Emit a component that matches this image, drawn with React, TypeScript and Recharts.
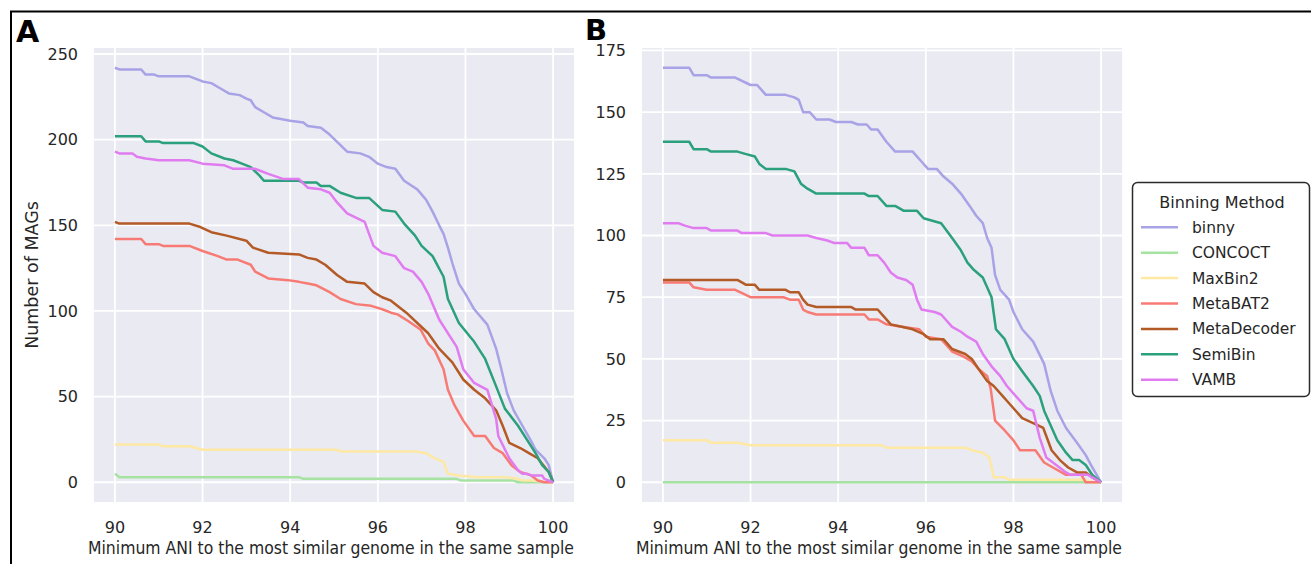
import { LineChart, Line, XAxis, YAxis, CartesianGrid, Label } from 'recharts'

// ─── Data ─────────────────────────────────────────────────────────────────
type Pt = [number, number]

const methods = ['binny', 'CONCOCT', 'MaxBin2', 'MetaBAT2', 'MetaDecoder', 'SemiBin', 'VAMB']
const colors = ['#a8a3e6', '#a6e3a2', '#fde8a4', '#f77b74', '#b35a26', '#2aa07c', '#e07cf0']

const xTicks = [90, 92, 94, 96, 98, 100]
const yTicksA = [0, 50, 100, 150, 200, 250]
const yTicksB = [0, 25, 50, 75, 100, 125, 150, 175]

// panel A
const binnyA: Pt[] = [[90,242],[90.1,241],[90.6,241],[90.7,238],[90.9,238],[91.0,237],[91.7,237],[92.0,234],[92.2,233],[92.4,230],[92.6,227],[92.85,226],[93.0,224],[93.1,223],[93.2,219],[93.4,216],[93.6,213],[94.0,211],[94.3,210],[94.4,208],[94.7,207],[94.9,203],[95.1,198],[95.3,193],[95.6,192],[95.8,190],[96.0,186],[96.2,184],[96.4,183],[96.6,176],[96.9,171],[97.1,165],[97.25,158],[97.4,150],[97.5,145],[97.6,137],[97.7,128],[97.85,116],[98.0,110],[98.2,101],[98.5,92],[98.7,78],[98.8,68],[98.95,52],[99.1,42],[99.3,33],[99.5,24],[99.6,19],[99.8,14],[99.9,10],[100,0]]
const concoctA: Pt[] = [[90,5],[90.1,3],[94.2,3],[94.3,2],[97.8,2],[97.9,1],[99.1,1],[99.2,0],[100,0]]
const maxbinA: Pt[] = [[90,22],[91.0,22],[91.1,21],[91.7,21],[92.0,19],[95.05,19],[95.15,18],[96.85,18],[97.1,17],[97.3,14],[97.5,12],[97.6,5],[97.85,4],[98.3,3],[98.9,3],[99.2,2],[99.3,1],[99.5,1],[99.9,0],[100,0]]
const metabatA: Pt[] = [[90,142],[90.6,142],[90.7,139],[91.0,139],[91.1,138],[91.7,138],[92.0,135],[92.35,132],[92.55,130],[92.8,130],[93.1,127],[93.2,123],[93.5,119],[93.95,118],[94.2,117],[94.4,116],[94.6,115],[94.9,111],[95.15,107],[95.5,104],[95.85,103],[96.1,101],[96.3,99],[96.45,98],[96.7,94],[96.98,89],[97.15,81],[97.3,77],[97.5,66],[97.6,54],[97.75,45],[97.95,36],[98.2,27],[98.45,27],[98.65,20],[98.85,17],[99.05,10],[99.25,6],[99.5,4],[99.65,1],[99.8,0],[100,0]]
const metadecA: Pt[] = [[90,152],[90.1,151],[91.7,151],[91.95,149],[92.2,146],[92.55,144],[93.0,141],[93.15,137],[93.5,134],[94.2,133],[94.4,131],[94.6,130],[94.8,127],[95.07,121],[95.3,117],[95.7,116],[95.9,111],[96.1,108],[96.3,106],[96.65,99],[96.9,93],[97.15,87],[97.4,78],[97.7,70],[97.95,60],[98.2,54],[98.45,49],[98.7,42],[98.85,33],[99.0,23],[99.25,20],[99.45,17],[99.65,14],[99.9,6],[100,0]]
const semibinA: Pt[] = [[90,202],[90.6,202],[90.7,199],[91.0,199],[91.1,198],[91.8,198],[92.0,196],[92.2,192],[92.5,189],[92.7,188],[92.9,186],[93.1,184],[93.3,179],[93.4,176],[94.2,176],[94.3,175],[94.6,175],[94.7,173],[94.9,173],[95.15,169],[95.5,166],[95.8,166],[96.1,159],[96.4,158],[96.6,151],[96.85,144],[97.0,138],[97.25,132],[97.5,120],[97.6,107],[97.85,93],[98.2,82],[98.45,72],[98.7,56],[98.9,43],[99.2,33],[99.6,17],[99.75,10],[99.9,6],[100,0]]
const vambA: Pt[] = [[90,193],[90.1,192],[90.4,192],[90.5,190],[90.7,189],[91.0,188],[91.7,188],[92.0,186],[92.5,185],[92.7,183],[93.2,183],[93.3,182],[93.5,180],[93.85,177],[94.2,177],[94.4,172],[94.7,171],[94.9,169],[95.05,164],[95.3,157],[95.7,152],[95.9,138],[96.1,134],[96.4,132],[96.6,125],[96.8,123],[97.0,117],[97.15,110],[97.4,95],[97.8,79],[97.95,66],[98.2,58],[98.5,54],[98.7,37],[98.75,27],[99.0,14],[99.2,7],[99.3,5],[99.4,5],[99.5,4],[99.75,4],[99.8,2],[100,0]]

// panel B
const binnyB: Pt[] = [[90,168],[90.6,168],[90.7,165],[91.0,165],[91.1,164],[91.65,164],[92.0,161],[92.15,161],[92.35,157],[92.8,157],[93.0,156],[93.1,155],[93.2,150],[93.35,150],[93.5,147],[93.8,147],[93.95,146],[94.3,146],[94.45,145],[94.65,145],[94.75,143],[94.9,143],[95.1,138],[95.3,134],[95.7,134],[95.9,130],[96.05,127],[96.25,127],[96.4,124],[96.6,121],[96.8,117],[97.0,112],[97.15,108],[97.3,105],[97.4,99],[97.5,95],[97.58,84],[97.7,78],[97.9,74],[98.0,69],[98.2,62],[98.45,57],[98.7,48],[98.85,37],[99.0,29],[99.2,22],[99.45,16],[99.65,11],[99.8,6],[100,0]]
const concoctB: Pt[] = [[90,0],[100,0]]
const maxbinB: Pt[] = [[90,17],[91.0,17],[91.1,16],[91.7,16],[92.0,15],[95.0,15],[95.1,14],[96.9,14],[97.05,13],[97.3,12],[97.45,10],[97.55,2],[97.8,2],[97.9,1],[99.6,1],[99.8,0],[100,0]]
const metabatB: Pt[] = [[90,81],[90.6,81],[90.7,79],[91.0,78],[91.65,78],[92.0,75],[92.75,75],[92.9,74],[93.1,74],[93.2,70],[93.3,69],[93.5,68],[94.6,68],[94.7,66],[94.9,66],[95.1,64],[95.45,63],[95.85,62],[96.0,59],[96.35,58],[96.6,53],[96.85,51],[97.05,49],[97.2,46],[97.4,43],[97.48,38],[97.58,25],[97.8,21],[98.0,17],[98.15,13],[98.5,13],[98.7,8],[98.9,6],[99.2,3],[99.55,3],[99.65,0],[100,0]]
const metadecB: Pt[] = [[90,82],[91.7,82],[91.9,80],[92.1,80],[92.2,78],[92.8,78],[92.9,77],[93.1,77],[93.2,74],[93.3,72],[93.5,71],[94.3,71],[94.4,70],[94.9,70],[95.05,67],[95.2,64],[95.45,63],[95.7,62],[95.95,60],[96.1,58],[96.4,58],[96.6,54],[96.75,53],[96.9,52],[97.05,50],[97.2,46],[97.4,41],[97.55,39],[97.75,35],[97.95,31],[98.2,26],[98.45,24],[98.68,22],[98.87,13],[99.06,9],[99.25,6],[99.45,4],[99.65,4],[99.8,2],[100,0]]
const semibinB: Pt[] = [[90,138],[90.6,138],[90.7,135],[91.0,135],[91.1,134],[91.7,134],[91.9,133],[92.1,132],[92.2,129],[92.35,127],[92.8,127],[93.0,126],[93.15,121],[93.3,119],[93.5,117],[94.6,117],[94.7,116],[94.9,116],[95.1,112],[95.3,112],[95.5,110],[95.8,110],[95.95,107],[96.15,106],[96.35,105],[96.6,99],[96.8,94],[96.95,89],[97.1,86],[97.3,83],[97.5,75],[97.6,62],[97.8,58],[98.0,50],[98.2,45],[98.45,39],[98.6,35],[98.7,29],[98.85,23],[99.0,17],[99.2,12],[99.35,9],[99.5,9],[99.65,7],[99.8,3],[100,0]]
const vambB: Pt[] = [[90,105],[90.35,105],[90.5,104],[90.7,103],[91.0,103],[91.1,102],[91.7,102],[91.8,101],[92.35,101],[92.5,100],[93.3,100],[93.5,99],[93.75,98],[93.9,97],[94.2,97],[94.3,95],[94.6,95],[94.7,92],[94.9,92],[95.05,89],[95.2,85],[95.35,83],[95.55,82],[95.7,80],[95.8,74],[95.9,70],[96.2,69],[96.35,68],[96.6,63],[96.8,61],[96.95,59],[97.15,57],[97.3,52],[97.5,47],[97.7,43],[97.85,39],[98.1,34],[98.3,30],[98.45,29],[98.6,18],[98.75,10],[98.9,8],[99.2,4],[99.3,3],[99.7,3],[99.8,2],[100,0]]

const seriesA = [binnyA, concoctA, maxbinA, metabatA, metadecA, semibinA, vambA]
const seriesB = [binnyB, concoctB, maxbinB, metabatB, metadecB, semibinB, vambB]

// ─── Styling ──────────────────────────────────────────────────────────────
const FONT = '"DejaVu Sans", Verdana, sans-serif'
const TEXT = '#262626'
const X_TITLE = 'Minimum ANI to the most similar genome in the same sample'

function XTick({ x, y, payload }: any) {
  return (
    <text x={x} y={y + 30} textAnchor="middle" fontSize={16} fill={TEXT} fontFamily={FONT}>
      {payload.value}
    </text>
  )
}

function YTick({ x, y, payload }: any) {
  return (
    <text x={x - 15} y={y} dy="0.36em" textAnchor="end" fontSize={16} fill={TEXT} fontFamily={FONT}>
      {payload.value}
    </text>
  )
}

function XTitle({ viewBox }: any) {
  const cx = viewBox.x + viewBox.width / 2 - 3
  return (
    <text
      x={cx}
      y={viewBox.y + 51}
      textAnchor="middle"
      fontSize={17}
      fill={TEXT}
      fontFamily={FONT}
      textLength={486}
      lengthAdjust="spacingAndGlyphs"
    >
      {X_TITLE}
    </text>
  )
}

function YTitle() {
  return (
    <text
      x={38}
      y={275}
      transform="rotate(-90, 38, 275)"
      textAnchor="middle"
      fontSize={17.5}
      fill={TEXT}
      fontFamily={FONT}
    >
      Number of MAGs
    </text>
  )
}

interface PanelProps {
  left: number
  width: number
  yAxisWidth: number
  rightMargin: number
  yDomain: [number, number]
  yTicks: number[]
  series: Pt[][]
  showYTitle?: boolean
}

function Panel({ left, width, yAxisWidth, rightMargin, yDomain, yTicks, series, showYTitle }: PanelProps) {
  return (
    <div style={{ position: 'absolute', left, top: 0 }}>
      <LineChart width={width} height={564} margin={{ top: 47, right: rightMargin, bottom: 0, left: 0 }}>
        <CartesianGrid fill="#eaeaf2" stroke="#ffffff" strokeWidth={1.8} />
        <XAxis
          type="number"
          dataKey="x"
          domain={[89.5, 100.5]}
          ticks={xTicks}
          height={61}
          axisLine={false}
          tickLine={false}
          tickSize={0}
          tickMargin={0}
          tick={<XTick />}
          allowDataOverflow
        >
          <Label content={<XTitle />} />
        </XAxis>
        <YAxis
          type="number"
          domain={yDomain}
          ticks={yTicks}
          width={yAxisWidth}
          axisLine={false}
          tickLine={false}
          tickSize={0}
          tickMargin={0}
          tick={<YTick />}
          allowDataOverflow
        >
          {showYTitle && <Label content={<YTitle />} />}
        </YAxis>
        {series.map((pts, i) => (
          <Line
            key={methods[i]}
            data={pts.map(([x, y]) => ({ x, y }))}
            dataKey="y"
            name={methods[i]}
            stroke={colors[i]}
            strokeWidth={2.5}
            strokeLinejoin="round"
            dot={false}
            activeDot={false}
            isAnimationActive={false}
          />
        ))}
      </LineChart>
    </div>
  )
}

export default function App() {
  return (
    <div
      style={{
        position: 'absolute',
        left: 0,
        top: 0,
        width: 1311,
        height: 564,
        overflow: 'hidden',
        background: '#ffffff',
        fontFamily: FONT,
      }}
    >
      <Panel
        left={0}
        width={600}
        yAxisWidth={93}
        rightMargin={25}
        yDomain={[-12.1, 254.1]}
        yTicks={yTicksA}
        series={seriesA}
        showYTitle
      />
      <Panel
        left={560}
        width={600}
        yAxisWidth={81}
        rightMargin={37}
        yDomain={[-8.4, 176.4]}
        yTicks={yTicksB}
        series={seriesB}
      />

      {/* Frame, panel letters and legend */}
      <svg width={1311} height={564} style={{ position: 'absolute', left: 0, top: 0, pointerEvents: 'none' }}>
        <rect x={11} y={11.5} width={1400} height={600} fill="none" stroke="#000" strokeWidth={2} />
        <text x={16} y={42} fontSize={30} fontWeight="bold" fontFamily={FONT} fill="#000">A</text>
        <text x={585} y={39.5} fontSize={29} fontWeight="bold" fontFamily={FONT} fill="#000">B</text>

        <rect x={1132.5} y={182.5} width={177} height={214} rx={5} fill="#ffffff" stroke="#2b2b2b" strokeWidth={1.5} />
        <text x={1222} y={207.5} textAnchor="middle" fontSize={16} fill={TEXT} fontFamily={FONT}>
          Binning Method
        </text>
        {methods.map((m, i) => {
          const ly = 227.3 + i * 25.4
          return (
            <g key={m}>
              <line x1={1141} x2={1178} y1={ly} y2={ly} stroke={colors[i]} strokeWidth={2.5} />
              <text x={1192} y={ly + 5.5} fontSize={15.5} fill={TEXT} fontFamily={FONT}>
                {m}
              </text>
            </g>
          )
        })}
      </svg>
    </div>
  )
}
